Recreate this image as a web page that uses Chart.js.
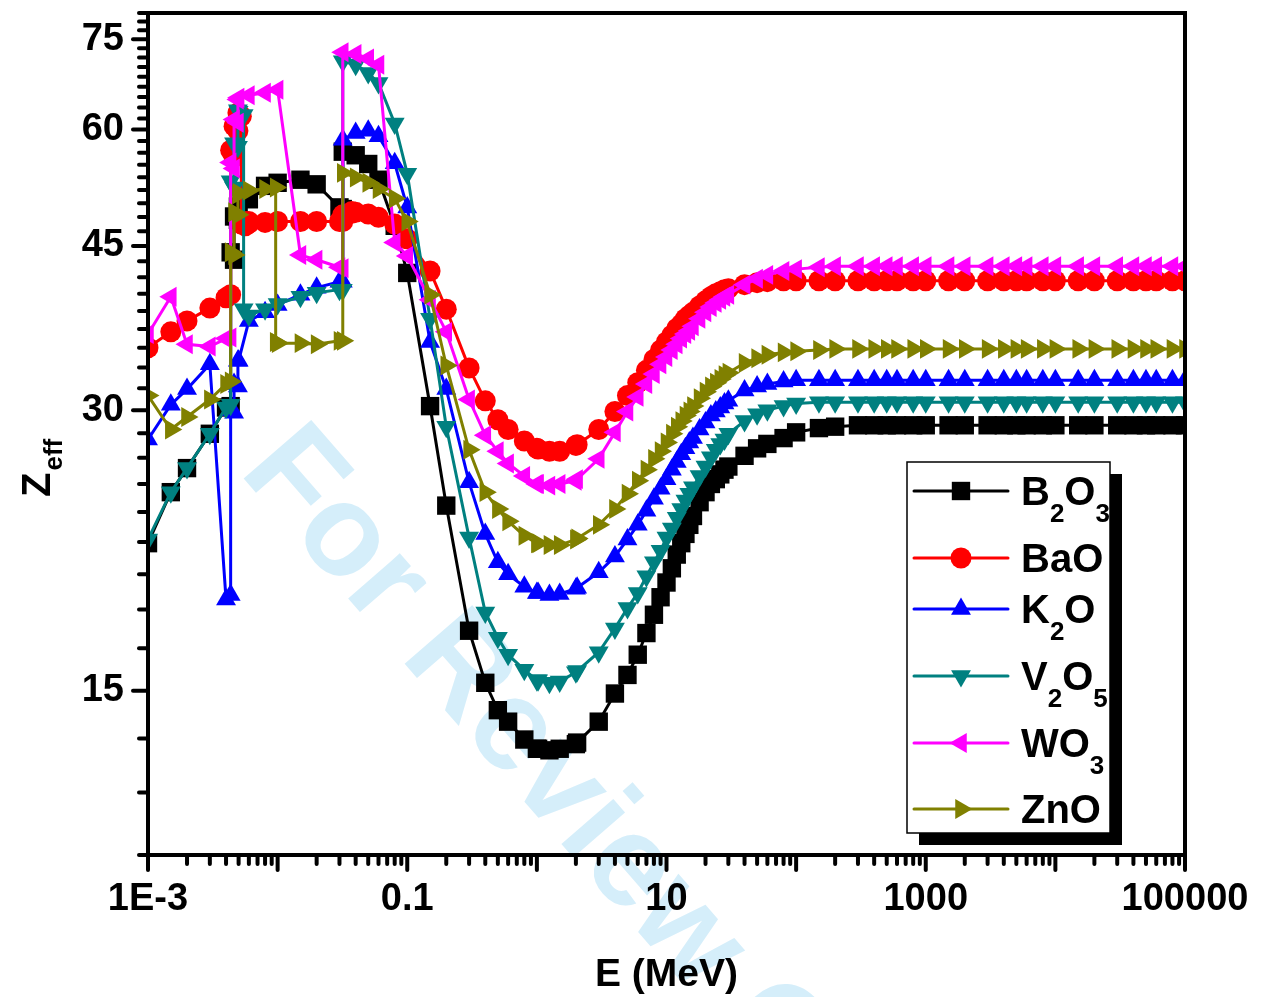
<!DOCTYPE html>
<html><head><meta charset="utf-8">
<script src="https://cdn.jsdelivr.net/npm/chart.js@4.4.0/dist/chart.umd.min.js"></script>
<style>html,body{margin:0;padding:0;background:#fff;overflow:hidden}canvas{display:block}</style>
</head><body>
<canvas id="c" width="1267" height="997"></canvas>
<script>
// Photon energy grid (MeV)
const energyGrid = [0.001,0.0015,0.002,0.003,0.004,0.005,0.006,0.008,0.01,0.015,0.02,0.03,0.04,0.05,0.06,0.08,0.1,
  0.15,0.2,0.3,0.4,0.5,0.6,0.8,1,1.022,1.25,1.5,2,2.044,3,4,5,6,7,8,9,10,11,12,13,14,15,16,18,20,22,24,26,28,30,
  40,50,60,80,100,150,200,300,400,500,600,800,1000,1500,2000,3000,4000,5000,6000,8000,10000,15000,20000,30000,
  40000,50000,60000,80000,100000];

// Zeff values on the grid
const zeff_B2O3 = [21.6,24.5,26.0,28.3,30.2,49.5,50.5,52.2,52.6,53.0,52.4,49.5,56.3,55.1,53.0,47.3,42.1,
  30.3,23.7,17.4,15.3,14.3,13.9,13.3,13.0,13.0,12.95,13.0,13.15,13.2,13.9,14.9,15.6,16.4,17.3,18.1,18.9,19.6,20.3,21.0,21.6,22.1,22.6,23.1,23.9,24.5,25.0,25.3,25.6,25.9,26.1,
  26.8,27.3,27.6,28.0,28.4,28.7,28.8,28.9,28.9,28.9,28.9,28.9,28.9,28.9,28.9,28.9,28.9,28.9,28.9,28.9,28.9,28.9,28.9,28.9,28.9,28.9,28.9,28.9,28.9];
const zeff_BaO = [35.0,36.4,37.4,38.6,39.6,62.3,47.6,47.7,47.8,47.8,47.8,47.8,48.9,48.7,48.3,47.5,45.8,
  42.3,38.5,33.3,30.7,29.3,28.6,27.8,27.3,27.25,27.1,27.1,27.5,27.55,28.6,29.9,31.1,32.1,33.1,34.0,34.8,35.5,36.1,36.7,37.1,37.6,37.9,38.2,38.8,39.3,39.7,40.0,40.2,40.4,40.5,
  40.9,41.1,41.2,41.3,41.3,41.3,41.3,41.3,41.3,41.3,41.3,41.3,41.3,41.3,41.3,41.3,41.3,41.3,41.3,41.3,41.3,41.3,41.3,41.3,41.3,41.3,41.3,41.3,41.3];
const zeff_K2O = [27.9,30.4,31.6,33.6,18.8,33.9,37.4,38.2,38.9,39.9,40.6,41.2,59.5,59.8,59.0,55.2,49.5,
  35.5,31.6,25.1,22.1,20.6,20.0,19.4,19.1,19.1,19.0,19.05,19.3,19.35,20.1,20.9,21.8,22.6,23.4,24.1,24.7,25.3,25.9,26.4,26.9,27.3,27.7,28.0,28.6,29.1,29.6,29.9,30.2,30.5,30.7,
  31.5,31.8,32.0,32.2,32.3,32.3,32.3,32.3,32.3,32.3,32.3,32.3,32.3,32.3,32.3,32.3,32.3,32.3,32.3,32.3,32.3,32.3,32.3,32.3,32.3,32.3,32.3,32.3,32.3];
const zeff_V2O5 = [21.8,24.5,26.0,28.3,30.2,62.7,37.9,38.5,39.0,39.7,40.1,40.4,70.4,69.0,67.3,60.9,53.8,
  37.6,28.8,21.9,18.2,17.1,16.4,15.8,15.4,15.4,15.3,15.35,15.7,15.75,16.5,17.5,18.4,19.1,19.9,20.6,21.2,21.9,22.4,23.0,23.5,24.0,24.4,24.8,25.5,26.1,26.7,27.2,27.6,27.9,28.3,
  29.2,29.7,30.0,30.3,30.5,30.6,30.6,30.6,30.6,30.6,30.6,30.6,30.6,30.6,30.6,30.6,30.6,30.6,30.6,30.6,30.6,30.6,30.6,30.6,30.6,30.6,30.6,30.6,30.6];
const zeff_WO3 = [36.2,39.7,35.3,35.1,35.8,64.9,65.3,65.7,66.2,44.0,43.5,42.7,72.3,71.5,70.4,45.4,43.9,
  39.4,36.4,30.8,28.2,27.1,26.3,25.5,25.0,25.0,24.9,25.0,25.2,25.3,26.6,28.4,29.9,31.0,32.0,32.8,33.6,34.2,34.8,35.3,35.8,36.2,36.5,36.9,37.6,38.2,38.7,39.1,39.4,39.7,39.9,
  40.9,41.5,41.9,42.3,42.5,42.7,42.8,42.8,42.8,42.8,42.8,42.8,42.8,42.8,42.8,42.8,42.8,42.8,42.8,42.8,42.8,42.8,42.8,42.8,42.8,42.8,42.8,42.8,42.8];
const zeff_ZnO = [31.1,28.6,29.5,30.8,32.0,51.3,51.6,51.8,35.4,35.4,35.3,35.6,53.3,52.6,51.8,50.6,47.8,
  39.9,33.5,27.2,24.5,23.5,22.8,22.0,21.6,21.6,21.5,21.5,21.8,21.85,22.6,23.5,24.4,25.2,25.9,26.6,27.1,27.7,28.3,28.8,29.2,29.6,29.9,30.3,30.9,31.4,31.8,32.1,32.4,32.7,32.9,
  33.7,34.1,34.4,34.6,34.7,34.8,34.9,34.9,34.9,34.9,34.9,34.9,34.9,34.9,34.9,34.9,34.9,34.9,34.9,34.9,34.9,34.9,34.9,34.9,34.9,34.9,34.9,34.9,34.9];

// Absorption-edge points: [energy MeV, Zeff below edge, Zeff above edge]
const edges_B2O3 = [[0.004341,30.3,44.3],[0.004612,43.5,48.4],[0.004939,48.0,49.6],[0.03181,49.3,56.8]];
const edges_BaO  = [[0.004341,39.9,57.0],[0.004612,56.0,60.5],[0.004939,59.8,62.5],[0.005247,62.0,47.5],[0.005624,47.3,47.8],[0.005989,47.6,47.8],[0.03181,47.8,48.6],[0.03744,48.8,49.0]];
const edges_K2O  = [[0.004341,19.0,30.0],[0.004612,29.8,32.0],[0.004939,31.8,33.9],[0.03181,41.2,58.5]];
const edges_V2O5 = [[0.004341,30.4,52.8],[0.004612,52.0,58.0],[0.004939,57.5,62.9],[0.005465,62.2,38.5],[0.03181,40.4,71.0]];
const edges_WO3  = [[0.004341,35.9,55.3],[0.004612,54.5,61.5],[0.004939,61.0,64.6],[0.03181,42.6,72.6]];
const edges_ZnO  = [[0.004341,32.2,44.3],[0.004612,44.0,48.9],[0.004939,48.6,51.1],[0.009659,52.0,35.5],[0.03181,35.6,53.9]];

const seriesNames  = ['B2O3','BaO','K2O','V2O5','WO3','ZnO'];
const seriesLabels = [[['B',0],['2',1],['O',0],['3',1]],[['BaO',0]],[['K',0],['2',1],['O',0]],[['V',0],['2',1],['O',0],['5',1]],[['WO',0],['3',1]],[['ZnO',0]]];
const seriesColors = ['#000000','#ff0000','#0000ff','#008080','#ff00ff','#808000'];
const seriesStyles = ['rect','circle','triangle','triangle','triangle','triangle'];
const seriesRot    = [0,0,0,180,-90,90];
const seriesRadius = [13,10.5,11.5,11.5,11.5,11.5];

const xTickValues = [0.001,0.1,10,1000,100000];
const xTickLabels = ['1E-3','0.1','10','1000','100000'];
const yTickValues = [15,30,45,60,75];
const yTickLabels = ['15','30','45','60','75'];
const xTitle = 'E (MeV)';
const yTitleMain = 'Z', yTitleSub = 'eff';
const watermarkText = 'For Review Only';

const zeffs = [zeff_B2O3,zeff_BaO,zeff_K2O,zeff_V2O5,zeff_WO3,zeff_ZnO];
const edges = [edges_B2O3,edges_BaO,edges_K2O,edges_V2O5,edges_WO3,edges_ZnO];

function buildPoints(z, ed){
  const pts = energyGrid.map((e,i)=>({x:e,y:z[i],k:0}));
  ed.forEach(([e,b,a])=>{pts.push({x:e,y:b,k:0});pts.push({x:e,y:a,k:1});});
  pts.sort((p,q)=> p.x-q.x || p.k-q.k);
  return pts.map(p=>({x:p.x,y:p.y}));
}

const FONT = '"Liberation Sans", Arial, sans-serif';

const datasets = seriesNames.map((n,i)=>({
  label:n,
  data: buildPoints(zeffs[i], edges[i]),
  borderColor: seriesColors[i],
  backgroundColor: seriesColors[i],
  borderWidth: 3,
  pointStyle: seriesStyles[i],
  pointRotation: seriesRot[i],
  pointRadius: seriesRadius[i],
  pointBorderWidth: 0,
  pointBackgroundColor: seriesColors[i],
  pointBorderColor: seriesColors[i],
  tension: 0,
  clip: 0,
  order: 5 - i
}));

const watermark = {
  id:'watermark',
  beforeDraw(chart){
    const ctx = chart.ctx;
    ctx.save();
    ctx.fillStyle = '#ffffff';
    ctx.fillRect(0,0,chart.width,chart.height);
    ctx.translate(238, 472);
    ctx.rotate(49*Math.PI/180);
    ctx.font = 'bold 130px ' + FONT;
    ctx.fillStyle = '#d5eefa';
    ctx.textBaseline = 'alphabetic';
    ctx.fillText(watermarkText, 0, 0);
    ctx.restore();
  }
};

const frame = {
  id:'frame',
  afterDatasetsDraw(chart){
    const ctx = chart.ctx, a = chart.chartArea;
    const xs = chart.scales.x, ys = chart.scales.y;
    ctx.save();
    ctx.strokeStyle = '#000';
    ctx.lineWidth = 4;
    ctx.lineCap = 'butt';
    ctx.strokeRect(a.left, a.top, a.right-a.left, a.bottom-a.top);
    ctx.lineCap = 'round';
    for (let d=-3; d<=5; d++){
      for (let m=1; m<=9; m++){
        const v = m*Math.pow(10,d);
        if (v>100000*1.0001) break;
        const px = xs.getPixelForValue(v);
        const len = (m===1)?15:9;
        ctx.lineWidth = 4;
        ctx.beginPath(); ctx.moveTo(px, a.bottom); ctx.lineTo(px, a.bottom+len); ctx.stroke();
      }
    }
    for (let k=0; k<=42; k++){
      const v = 10 + k*5/3;
      if (v>80.01) break;
      const major = yTickValues.some(t=>Math.abs(t-v)<1e-6);
      const py = ys.getPixelForValue(v);
      const len = major?15:9;
      ctx.beginPath(); ctx.moveTo(a.left, py); ctx.lineTo(a.left-len, py); ctx.stroke();
    }
    ctx.restore();
  }
};

const titles = {
  id:'titles',
  afterDraw(chart){
    const ctx = chart.ctx, a = chart.chartArea;
    ctx.save();
    ctx.fillStyle = '#000';
    ctx.font = 'bold 39px ' + FONT;
    ctx.textAlign = 'center';
    ctx.textBaseline = 'alphabetic';
    ctx.fillText(xTitle, (a.left+a.right)/2, 986);
    ctx.translate(50, 497);
    ctx.rotate(-Math.PI/2);
    ctx.textAlign = 'left';
    ctx.font = 'bold 40px ' + FONT;
    ctx.fillText(yTitleMain, 0, 0);
    const w = ctx.measureText(yTitleMain).width;
    ctx.font = 'bold 26px ' + FONT;
    ctx.fillText(yTitleSub, w+2, 12);
    ctx.restore();
  }
};

const legendBox = {
  id:'legendBox',
  afterDraw(chart){
    const ctx = chart.ctx;
    const L=907, T=462, R=1110, B=833, sh=12;
    ctx.save();
    ctx.fillStyle = '#000';
    ctx.fillRect(L+sh, T+sh, R-L, B-T);
    ctx.fillStyle = '#fff';
    ctx.fillRect(L, T, R-L, B-T);
    ctx.strokeStyle = '#000'; ctx.lineWidth = 1.5;
    ctx.strokeRect(L, T, R-L, B-T);
    const rows = [491,558,609,676,743,809];
    seriesNames.forEach((n,i)=>{
      const y = rows[i];
      ctx.strokeStyle = seriesColors[i]; ctx.lineWidth = 3; ctx.lineCap='round';
      ctx.beginPath(); ctx.moveTo(914,y); ctx.lineTo(1008,y); ctx.stroke();
      ctx.fillStyle = seriesColors[i];
      Chart.helpers.drawPoint(ctx, {pointStyle:seriesStyles[i], radius:seriesRadius[i], rotation:seriesRot[i], borderWidth:0}, 961, y);
      ctx.fillStyle = '#000';
      let x = 1021;
      seriesLabels[i].forEach(([t,sub])=>{
        ctx.font = sub ? 'bold 26px '+FONT : 'bold 40px '+FONT;
        ctx.textBaseline = 'alphabetic';
        ctx.fillText(t, x, y + 14 + (sub?17:0));
        x += ctx.measureText(t).width;
      });
    });
    ctx.restore();
  }
};

new Chart(document.getElementById('c'), {
  type:'line',
  data:{datasets},
  options:{
    responsive:false,
    devicePixelRatio:1,
    animation:false,
    layout:{padding:{left:0,right:82,top:11,bottom:0}},
    plugins:{legend:{display:false},tooltip:{enabled:false}},
    scales:{
      x:{type:'logarithmic', min:0.001, max:100000,
        afterBuildTicks:s=>{s.ticks = xTickValues.map(v=>({value:v}));},
        afterFit:s=>{s.height = 142; s.paddingLeft = 0; s.paddingRight = 0;},
        grid:{display:false, drawTicks:false}, border:{display:false},
        ticks:{autoSkip:false, maxRotation:0, color:'#000', padding:22,
          font:{family:FONT, weight:'bold', size:38},
          callback:(v,i)=>xTickLabels[i]}},
      y:{type:'logarithmic', min:10, max:80,
        afterBuildTicks:s=>{s.ticks = yTickValues.map(v=>({value:v}));},
        afterFit:s=>{s.width = 148; s.paddingTop = 0; s.paddingBottom = 0;},
        grid:{display:false, drawTicks:false}, border:{display:false},
        ticks:{autoSkip:false, color:'#000', padding:24,
          font:{family:FONT, weight:'bold', size:38},
          callback:(v,i)=>yTickLabels[i]}}
    }
  },
  plugins:[watermark, frame, titles, legendBox]
});
</script>
</body></html>
